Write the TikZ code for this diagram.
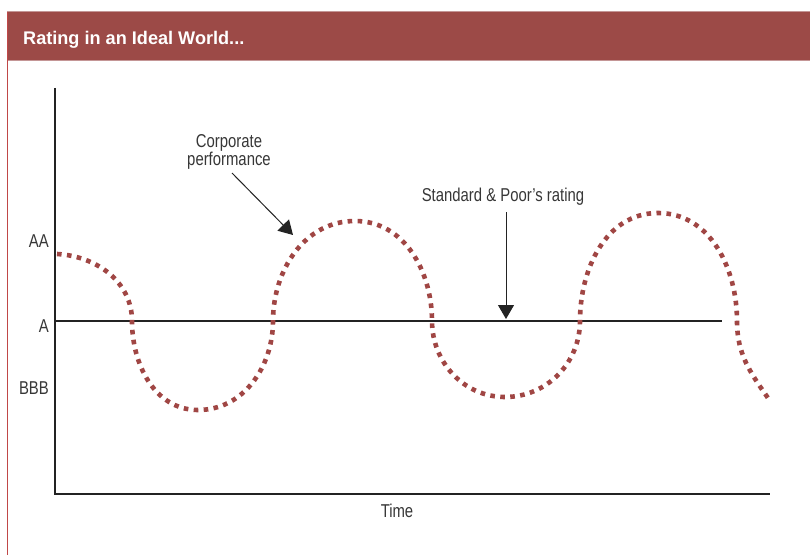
\documentclass[tikz,border=0pt]{standalone}
\usepackage{fontspec}
\setmainfont{Liberation Sans}[FakeStretch=0.8]
\newfontfamily\titlefont{Liberation Sans}[FakeStretch=0.99,BoldFont={Liberation Sans Bold}]
\usetikzlibrary{arrows.meta}
\definecolor{hdr}{RGB}{156,74,71}
\definecolor{hdrline}{RGB}{196,150,150}
\definecolor{border}{RGB}{192,72,72}
\definecolor{perf}{RGB}{160,70,68}
\definecolor{ink}{RGB}{35,35,35}
\definecolor{txt}{RGB}{55,55,55}
\tikzset{
  axisline/.style={draw=ink,line width=1.4pt},
  ratingline/.style={draw=ink,line width=2pt},
  perfcurve/.style={draw=perf,line width=4.6pt,dash pattern=on 4.6pt off 5.4pt},
  lbl/.style={font=\fontsize{18.6}{18}\selectfont,text=txt,inner sep=0pt},
  pointer/.style={draw=ink,line width=1pt,-{Triangle[length=14pt,width=16pt]}}
}
\begin{document}
\begin{tikzpicture}[x=1pt,y=1pt]
\useasboundingbox (0,0) rectangle (810,555);
\fill[white] (0,0) rectangle (810,555);
% header
\fill[hdr] (7,495) rectangle (810,543);
\draw[hdrline,line width=1pt] (7,543.5) -- (810,543.5);
\draw[hdrline,line width=0.6pt] (7,495) -- (810,495);
\draw[border,line width=1.2pt] (7.5,543) -- (7.5,0);
\node[anchor=base west,inner sep=0pt,text=white,font=\titlefont\bfseries\fontsize{18.3}{18}\selectfont] (title) at (23,510) {Rating in an Ideal World...};
% axes
\coordinate (ytop) at (55,467);
\coordinate (orig) at (55,61);
\coordinate (xend) at (770,61);
\draw[axisline] (ytop) -- (orig) -- (xend);
% rating line
\coordinate (astart) at (55,234);
\coordinate (aend) at (722,234);
\draw[ratingline] (astart) -- (aend);
% labels
\node[lbl,anchor=east] (laa) at (49,314) {AA};
\node[lbl,anchor=east] (la) at (49,229) {A};
\node[lbl,anchor=east] (lbbb) at (49,167) {BBB};
\node[lbl] (ltime) at (397,44) {Time};
% performance curve
\draw[perfcurve] (57,301) to[out=-3,in=90] (132,234) to[out=-90,in=180] (198,145)
  to[out=0,in=-90] (273,234) to[out=90,in=180] (355,334) to[out=0,in=90] (432,234)
  to[out=-90,in=180] (505,158) to[out=0,in=-90] (580,234) to[out=90,in=180] (658,342)
  to[out=0,in=90] (737,234) to[out=-90,in=125] (768,157);
% annotations
\node[lbl,align=center] (cp) at (229,403) {Corporate\\performance};
\coordinate (cpfrom) at (232,382);
\coordinate (cpto) at (293,320);
\draw[pointer] (cpfrom) -- (cpto);
\node[lbl] (sp) at (503,358) {Standard \& Poor’s rating};
\coordinate (spfrom) at (506,343);
\coordinate (spto) at (506,236);
\draw[pointer] (spfrom) -- (spto);
\end{tikzpicture}
\end{document}
